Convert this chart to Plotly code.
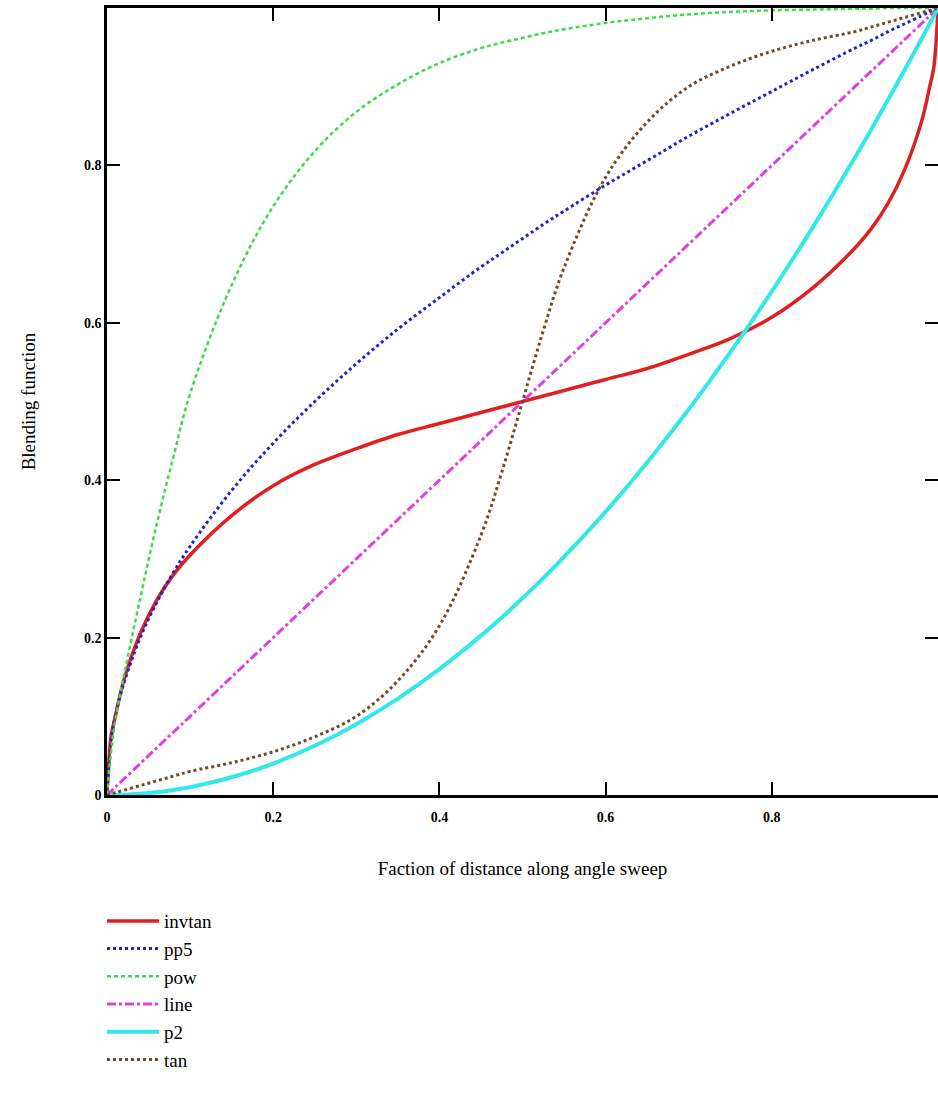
import plotly.graph_objects as go

# Fraction of distance along the angle sweep (shared x samples)
x_vals = [0, 0.005, 0.01, 0.02, 0.04, 0.06, 0.08, 0.1, 0.15, 0.2, 0.25, 0.3, 0.35, 0.4, 0.45, 0.475,
          0.5, 0.525, 0.55, 0.6, 0.65, 0.7, 0.75, 0.8, 0.85, 0.9, 0.92, 0.94, 0.96, 0.98, 0.99, 0.995, 1.0]

invtan = [0, 0.075, 0.10, 0.145, 0.205, 0.248, 0.28, 0.305, 0.355, 0.393, 0.42, 0.44, 0.458, 0.472, 0.486, 0.493,
          0.5, 0.507, 0.514, 0.528, 0.542, 0.56, 0.58, 0.607, 0.645, 0.695, 0.72, 0.752, 0.795, 0.855, 0.90, 0.925, 1.0]

pp5 = [0, 0.071, 0.1, 0.141, 0.2, 0.245, 0.283, 0.316, 0.387, 0.447, 0.5, 0.548, 0.592, 0.632, 0.671, 0.689,
       0.707, 0.725, 0.742, 0.775, 0.806, 0.837, 0.866, 0.894, 0.922, 0.949, 0.959, 0.97, 0.98, 0.99, 0.995, 0.9975, 1.0]

pow_ = [0, 0.055, 0.095, 0.15, 0.25, 0.345, 0.43, 0.51, 0.648, 0.748, 0.818, 0.868, 0.903, 0.93, 0.949, 0.956,
        0.962, 0.968, 0.973, 0.981, 0.987, 0.992, 0.995, 0.997, 0.998, 0.999, 0.999, 1.0, 1.0, 1.0, 1.0, 1.0, 1.0]

line = [0, 0.005, 0.01, 0.02, 0.04, 0.06, 0.08, 0.1, 0.15, 0.2, 0.25, 0.3, 0.35, 0.4, 0.45, 0.475,
        0.5, 0.525, 0.55, 0.6, 0.65, 0.7, 0.75, 0.8, 0.85, 0.9, 0.92, 0.94, 0.96, 0.98, 0.99, 0.995, 1.0]

p2 = [0, 0.00003, 0.0001, 0.0004, 0.0016, 0.0036, 0.0064, 0.01, 0.0225, 0.04, 0.0625, 0.09, 0.1225, 0.16, 0.2025, 0.2256,
      0.25, 0.2756, 0.3025, 0.36, 0.4225, 0.49, 0.5625, 0.64, 0.7225, 0.81, 0.8464, 0.8836, 0.9216, 0.9604, 0.9801, 0.99, 1.0]

tan_ = [0, 0.0015, 0.003, 0.006, 0.012, 0.018, 0.024, 0.03, 0.041, 0.055, 0.074, 0.1, 0.145, 0.215, 0.33, 0.41,
        0.5, 0.59, 0.67, 0.785, 0.855, 0.9, 0.926, 0.945, 0.959, 0.97, 0.976, 0.982, 0.988, 0.994, 0.997, 0.9985, 1.0]

series_names = ["invtan", "pp5", "pow", "line", "p2", "tan"]
series_values = [invtan, pp5, pow_, line, p2, tan_]
series_colors = ["#e02020", "#2222cc", "#3cdc4a", "#e040e0", "#33e8e8", "#6e4b2a"]
series_dash = ["solid", "dot", "4px,3px", "9px,3px,3px,3px", "solid", "dot"]
series_width = [3.5, 3, 2.5, 3, 4, 3]

x_ticks = [0, 0.2, 0.4, 0.6, 0.8]
x_ticktext = ["0", "0.2", "0.4", "0.6", "0.8"]
y_ticks = [0, 0.2, 0.4, 0.6, 0.8]
y_ticktext = ["0", "0.2", "0.4", "0.6", "0.8"]

fig = go.Figure()
for i, (name, vals) in enumerate(zip(series_names, series_values)):
    fig.add_trace(go.Scatter(
        x=x_vals, y=vals, name=name, mode="lines",
        line=dict(color=series_colors[i], dash=series_dash[i], width=series_width[i], shape="spline", smoothing=1.0),
        legendgroup=name,
    ))

serif = "Liberation Serif, Times New Roman, serif"
tickfont = dict(family=serif, size=14, color="black", weight="bold")

fig.update_layout(
    width=938, height=1116,
    paper_bgcolor="white", plot_bgcolor="white",
    margin=dict(l=107, r=0, t=8, b=321, autoexpand=False),
    showlegend=True,
    legend=dict(
        x=-0.006, y=-0.136, xanchor="left", yanchor="top",
        font=dict(family=serif, size=19, color="black"),
        itemwidth=52, tracegroupgap=0,
        bgcolor="rgba(0,0,0,0)",
    ),
    xaxis=dict(
        range=[0, 1], tickvals=x_ticks, ticktext=x_ticktext, tickfont=tickfont,
        showline=True, linecolor="black", linewidth=2.5, mirror="ticks",
        ticks="inside", ticklen=13, tickwidth=2, tickcolor="black", ticklabelstandoff=7,
        showgrid=False, zeroline=False, automargin=False,
        title=dict(text="Faction of distance along angle sweep",
                   font=dict(family=serif, size=19, color="black"), standoff=39),
    ),
    yaxis=dict(
        range=[0, 1], tickvals=y_ticks, ticktext=y_ticktext, tickfont=tickfont,
        showline=True, linecolor="black", linewidth=2.5, mirror="ticks",
        ticks="inside", ticklen=13, tickwidth=2, tickcolor="black",
        showgrid=False, zeroline=False, automargin=False,
        title=dict(text="Blending function",
                   font=dict(family=serif, size=19, color="black"), standoff=44),
    ),
)

fig.write_html(
    "out.html",
    config={"displayModeBar": False},
    post_script="document.body.style.margin='0';document.body.style.overflow='hidden';"
                "window.dispatchEvent(new Event('resize'));",
)
